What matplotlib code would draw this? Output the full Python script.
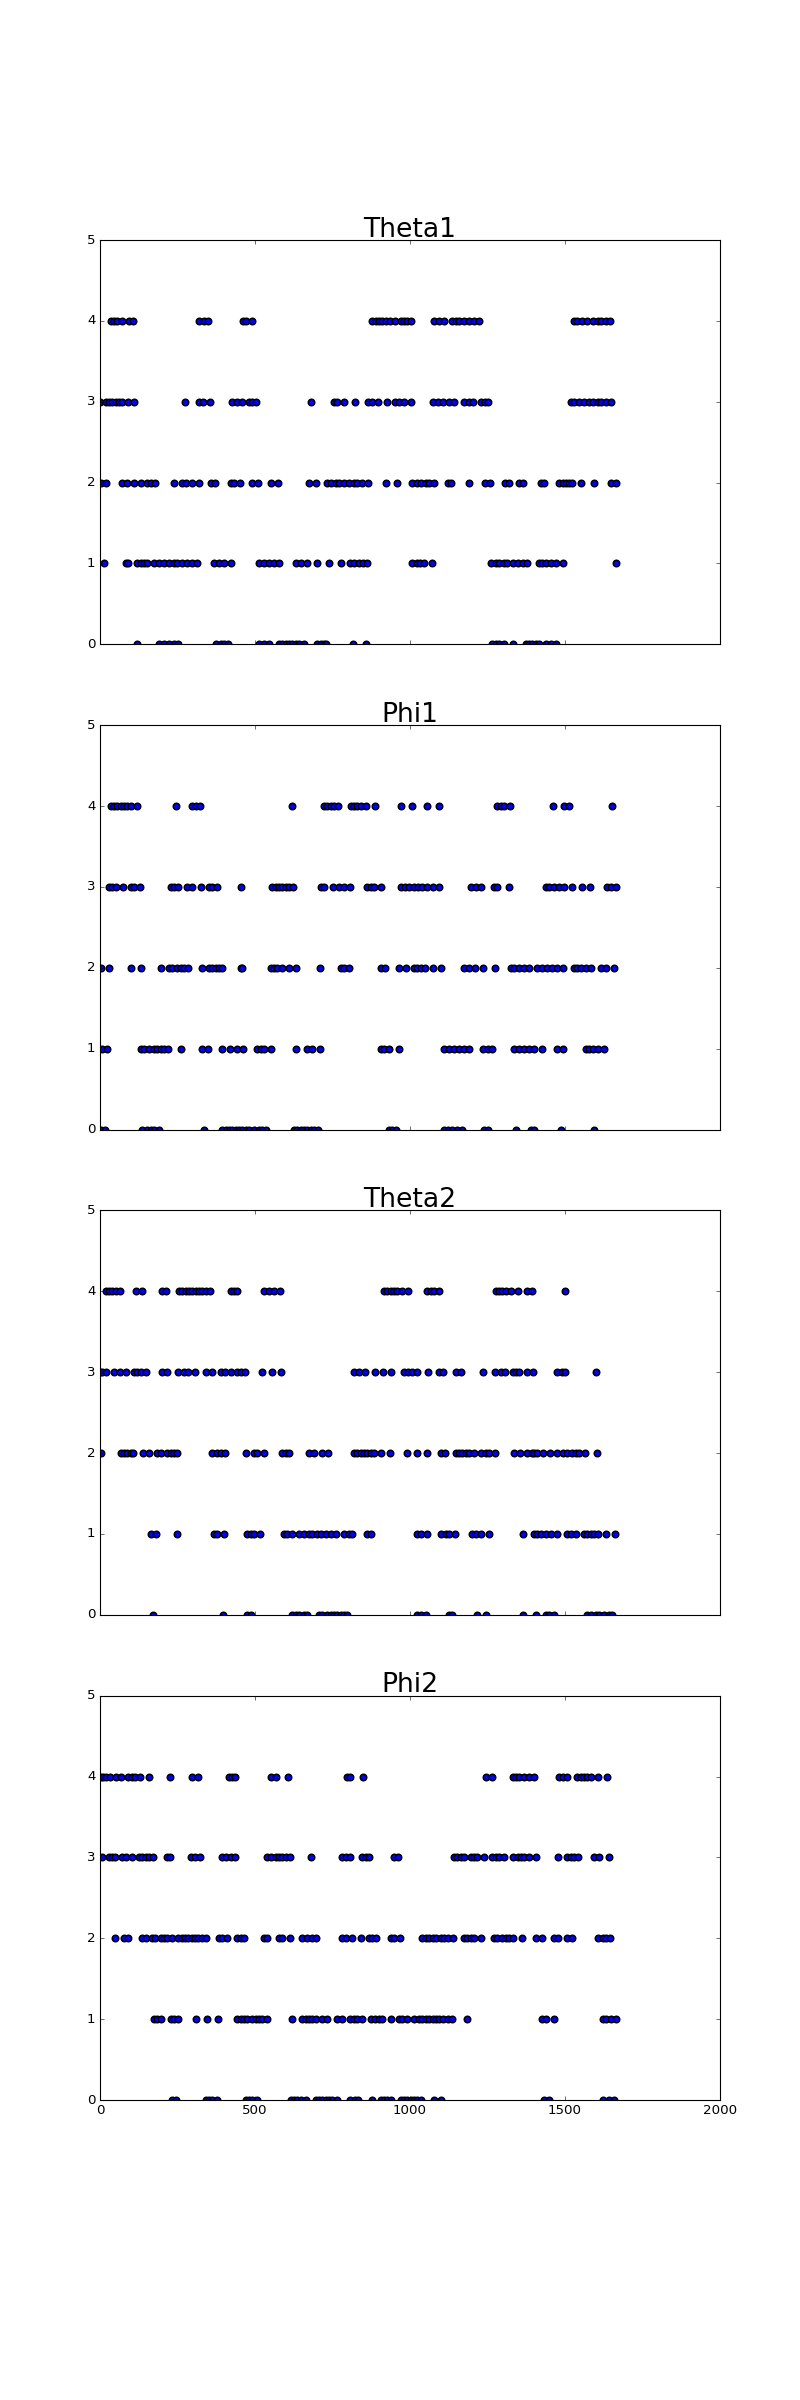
import matplotlib
matplotlib.use("Agg")
import matplotlib.pyplot as plt

plt.style.use("classic")

titles = ["Theta1", "Phi1", "Theta2", "Phi2"]

# x positions (sample index) of the points on each level 0..4
theta1_4 = [34, 45, 56, 72, 93, 106, 319, 335, 349, 461, 472, 491,
            878, 889, 900, 910, 921, 937, 953, 970, 980, 991, 1002,
            1078, 1094, 1110, 1137, 1148, 1159, 1175, 1191, 1207, 1223,
            1529, 1540, 1556, 1572, 1589, 1605, 1615, 1632, 1645]
theta1_3 = [0, 18, 29, 40, 50, 61, 72, 91, 110, 273, 319, 332, 354,
            427, 443, 459, 481, 491, 502, 680, 755, 766, 787, 822, 865,
            876, 898, 925, 952, 964, 980, 1004, 1073, 1089, 1105, 1126,
            1142, 1175, 1191, 1204, 1228, 1242, 1253, 1519, 1529, 1546,
            1562, 1578, 1589, 1605, 1615, 1632, 1648]
theta1_2 = [2, 18, 72, 88, 110, 131, 153, 163, 176, 239, 266, 276, 298,
            319, 357, 371, 421, 432, 450, 491, 511, 550, 575, 674, 698,
            733, 744, 760, 771, 787, 803, 819, 830, 846, 866, 924, 957,
            1005, 1023, 1035, 1051, 1062, 1076, 1121, 1132, 1191, 1242,
            1257, 1307, 1320, 1352, 1363, 1422, 1433, 1481, 1492, 1503,
            1513, 1524, 1551, 1592, 1648, 1664]
theta1_1 = [13, 83, 91, 118, 131, 142, 153, 174, 190, 206, 222, 239, 249,
            266, 282, 298, 314, 368, 384, 400, 421, 513, 529, 545, 561,
            577, 631, 647, 669, 701, 739, 776, 808, 819, 835, 848, 862,
            1007, 1024, 1032, 1046, 1070, 1261, 1277, 1288, 1304, 1314,
            1331, 1347, 1363, 1379, 1417, 1427, 1438, 1454, 1470, 1492, 1664]
theta1_0 = [120, 190, 206, 222, 239, 253, 373, 389, 400, 414, 513, 529,
            545, 577, 588, 599, 610, 620, 631, 642, 658, 701, 712, 722,
            730, 817, 857, 1266, 1277, 1288, 1304, 1331, 1374, 1384, 1395,
            1406, 1417, 1438, 1454, 1470]

phi1_4 = [34, 45, 56, 67, 77, 88, 99, 120, 246, 298, 309, 323, 620, 722,
          733, 744, 755, 769, 809, 819, 830, 841, 857, 887, 970, 1005,
          1056, 1092, 1282, 1293, 1304, 1323, 1460, 1497, 1513, 1653]
phi1_3 = [29, 40, 50, 74, 99, 110, 129, 228, 239, 253, 282, 298, 325,
          352, 362, 376, 454, 556, 567, 577, 588, 599, 610, 622, 712,
          722, 752, 771, 787, 808, 862, 873, 884, 905, 970, 984, 997,
          1013, 1027, 1040, 1056, 1073, 1094, 1196, 1212, 1228, 1271,
          1282, 1320, 1438, 1449, 1465, 1481, 1497, 1524, 1554, 1580,
          1637, 1648, 1664]
phi1_2 = [2, 29, 99, 131, 196, 222, 231, 249, 260, 271, 285, 330, 352,
          362, 373, 384, 395, 454, 459, 550, 561, 572, 588, 610, 631, 710,
          776, 787, 803, 905, 919, 964, 988, 1013, 1024, 1035, 1049, 1073,
          1099, 1174, 1190, 1210, 1234, 1274, 1325, 1336, 1352, 1368,
          1384, 1411, 1427, 1443, 1459, 1475, 1494, 1529, 1540, 1551,
          1567, 1583, 1615, 1632, 1658]
phi1_1 = [5, 24, 131, 142, 158, 174, 185, 196, 206, 220, 262, 330, 349,
          395, 418, 443, 461, 507, 518, 529, 550, 633, 669, 685, 709, 905,
          916, 932, 964, 1110, 1126, 1142, 1158, 1174, 1190, 1234, 1250,
          1266, 1336, 1352, 1368, 1384, 1400, 1425, 1475, 1492, 1567,
          1578, 1589, 1605, 1626]
phi1_0 = [2, 16, 137, 153, 163, 174, 190, 335, 395, 405, 416, 427, 438,
          448, 459, 470, 481, 497, 513, 524, 534, 626, 637, 647, 658, 669,
          680, 690, 704, 932, 943, 954, 1110, 1121, 1137, 1153, 1169, 1239,
          1250, 1341, 1390, 1400, 1486, 1594]

theta2_4 = [18, 29, 40, 50, 64, 115, 137, 201, 212, 255, 266, 276, 287,
            298, 309, 319, 330, 341, 354, 421, 432, 443, 529, 545, 561,
            580, 916, 927, 938, 948, 959, 975, 995, 1056, 1067, 1078, 1092,
            1277, 1288, 1298, 1309, 1325, 1347, 1379, 1392, 1499]
theta2_3 = [0, 8, 20, 45, 64, 85, 110, 120, 131, 149, 199, 217, 253, 271,
            285, 306, 341, 360, 389, 403, 421, 443, 454, 468, 524, 556,
            583, 819, 835, 855, 887, 913, 938, 980, 995, 1007, 1024, 1059,
            1094, 1107, 1148, 1164, 1234, 1274, 1293, 1307, 1331, 1341,
            1352, 1379, 1397, 1475, 1489, 1500, 1601]
theta2_2 = [2, 67, 77, 88, 99, 107, 139, 158, 185, 196, 217, 228, 239,
            249, 362, 378, 389, 403, 470, 497, 507, 529, 586, 599, 610,
            674, 690, 717, 737, 819, 830, 841, 852, 862, 873, 884, 905,
            935, 991, 1024, 1056, 1099, 1113, 1148, 1159, 1169, 1180, 1191,
            1205, 1228, 1245, 1255, 1275, 1336, 1354, 1377, 1393, 1400,
            1411, 1429, 1451, 1475, 1492, 1508, 1524, 1535, 1546, 1565, 1602]
theta2_1 = [163, 182, 247, 368, 378, 400, 475, 486, 497, 516, 593, 604,
            620, 642, 658, 674, 685, 701, 712, 728, 744, 760, 787, 803,
            814, 862, 873, 1024, 1035, 1056, 1099, 1116, 1126, 1145, 1201,
            1212, 1228, 1255, 1363, 1400, 1411, 1422, 1438, 1454, 1475,
            1508, 1519, 1537, 1562, 1572, 1583, 1594, 1605, 1632, 1662]
theta2_0 = [171, 397, 475, 486, 620, 631, 642, 658, 669, 706, 717, 733,
            744, 755, 766, 776, 787, 798, 1024, 1035, 1051, 1126, 1137,
            1217, 1246, 1363, 1406, 1438, 1449, 1465, 1572, 1583, 1599,
            1610, 1626, 1642, 1653]

phi2_4 = [2, 10, 18, 31, 50, 69, 91, 102, 113, 128, 158, 225, 298, 317,
          416, 427, 434, 550, 567, 608, 798, 805, 848, 1244, 1266, 1331,
          1341, 1352, 1368, 1384, 1400, 1481, 1492, 1508, 1540, 1551, 1562,
          1572, 1583, 1605, 1637]
phi2_3 = [5, 29, 40, 48, 72, 83, 102, 126, 137, 147, 158, 171, 217, 226,
          292, 306, 323, 392, 405, 421, 435, 540, 550, 567, 577, 588, 599,
          613, 680, 782, 792, 808, 846, 857, 868, 948, 962, 1142, 1153,
          1164, 1175, 1196, 1207, 1217, 1239, 1266, 1277, 1288, 1304,
          1331, 1347, 1357, 1368, 1384, 1406, 1479, 1508, 1519, 1529,
          1543, 1594, 1610, 1642]
phi2_2 = [48, 77, 91, 137, 147, 169, 177, 196, 206, 217, 231, 253, 263,
          274, 285, 296, 306, 317, 328, 341, 384, 395, 411, 443, 454, 464,
          529, 540, 577, 588, 613, 653, 669, 683, 696, 782, 792, 812, 841,
          868, 878, 891, 938, 948, 967, 1040, 1051, 1062, 1073, 1083, 1099,
          1110, 1121, 1139, 1175, 1185, 1196, 1207, 1228, 1271, 1282, 1298,
          1309, 1320, 1331, 1361, 1406, 1427, 1465, 1479, 1508, 1524, 1608,
          1621, 1632, 1646]
phi2_1 = [174, 185, 196, 228, 239, 253, 309, 346, 382, 443, 454, 464, 475,
          491, 502, 513, 524, 540, 618, 653, 663, 674, 685, 696, 717, 733,
          766, 782, 808, 819, 830, 844, 873, 887, 900, 911, 938, 964, 975,
          991, 1013, 1029, 1040, 1051, 1062, 1073, 1083, 1094, 1105, 1121,
          1137, 1185, 1427, 1438, 1465, 1621, 1632, 1648, 1664]
phi2_0 = [233, 246, 341, 352, 362, 378, 470, 481, 491, 505, 615, 626, 637,
          647, 663, 696, 706, 717, 728, 739, 749, 766, 808, 822, 833, 878,
          905, 916, 927, 938, 970, 980, 991, 1002, 1013, 1024, 1035, 1078,
          1099, 1433, 1449, 1621, 1642, 1658]

series = [
    [theta1_0, theta1_1, theta1_2, theta1_3, theta1_4],
    [phi1_0, phi1_1, phi1_2, phi1_3, phi1_4],
    [theta2_0, theta2_1, theta2_2, theta2_3, theta2_4],
    [phi2_0, phi2_1, phi2_2, phi2_3, phi2_4],
]

fig, axes = plt.subplots(4, 1, sharex=True, figsize=(10, 30), dpi=80)
fig.patch.set_facecolor("white")
plt.subplots_adjust(left=0.125, right=0.9, top=0.9, bottom=0.125, hspace=0.2)

for ax, name, levels in zip(axes, titles, series):
    xs = []
    ys = []
    for level, pts in enumerate(levels):
        xs += pts
        ys += [level] * len(pts)
    ax.plot(xs, ys, "o", color="b", markersize=5.8,
            markeredgecolor="k", markeredgewidth=1.4)
    ax.set_title(name, fontsize=24, pad=3)
    ax.set_ylim(0, 5)
    ax.set_xlim(0, 2000)
    ax.set_yticks([0, 1, 2, 3, 4, 5])
    ax.set_xticks([0, 500, 1000, 1500, 2000])
    ax.tick_params(labelsize=12)

plt.savefig("out.png", dpi=80, facecolor="white")
